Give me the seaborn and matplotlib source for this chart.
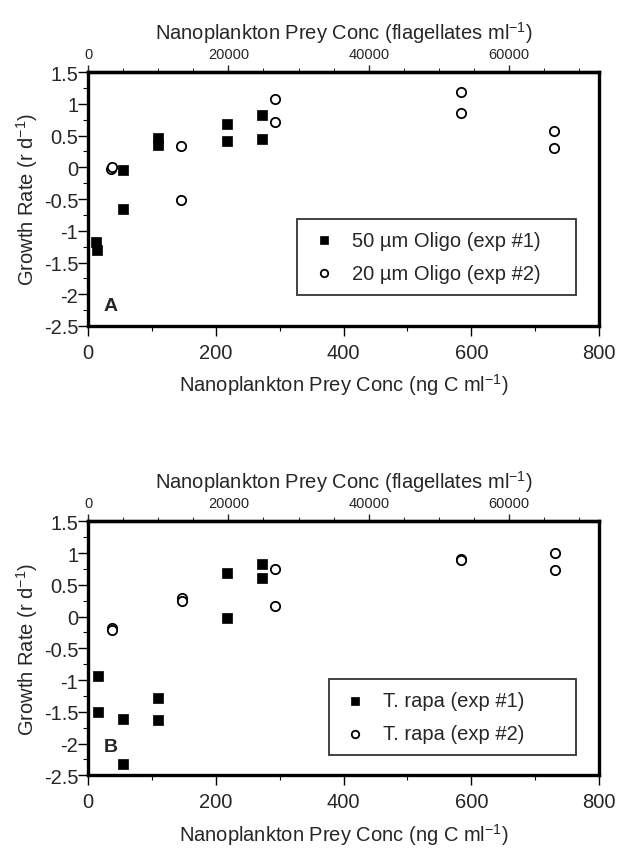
import numpy as np
import pandas as pd
import matplotlib
matplotlib.use("Agg")
import matplotlib.pyplot as plt
import seaborn as sns
from matplotlib.ticker import MultipleLocator, FixedLocator

# panel A values (ng C ml-1, growth rate r d-1)
a1_x = [13, 14, 54, 55, 109, 109, 217, 217, 272, 272]
a1_y = [-1.17, -1.30, -0.05, -0.65, 0.46, 0.35, 0.68, 0.42, 0.83, 0.45]
a2_x = [36, 37, 146, 146, 292, 292, 584, 584, 730, 730]
a2_y = [-0.02, 0.0, 0.33, -0.52, 1.07, 0.71, 1.19, 0.85, 0.57, 0.31]

# panel B values
b1_x = [15, 15, 55, 55, 110, 110, 218, 218, 273, 273]
b1_y = [-0.93, -1.50, -1.61, -2.33, -1.29, -1.63, 0.68, -0.03, 0.82, 0.61]
b2_x = [38, 38, 147, 147, 292, 292, 584, 584, 731, 731]
b2_y = [-0.18, -0.21, 0.30, 0.24, 0.75, 0.17, 0.91, 0.89, 1.00, 0.73]

labels_a = ["50 \u00b5m Oligo (exp #1)", "20 \u00b5m Oligo (exp #2)"]
labels_b = ["T. rapa (exp #1)", "T. rapa (exp #2)"]

# top axis (flagellates ml-1)
flag_ticks = [0, 20000, 40000, 60000]
flag_minor = list(range(0, 75000, 5000))

cells_per_ngC = 91.0

sns.set_style("white")
plt.rcParams['font.family'] = ['Liberation Sans', 'DejaVu Sans']
plt.rcParams['mathtext.default'] = 'regular'

fig = plt.figure(figsize=(6.19, 8.54), dpi=100)
ax_a = fig.add_axes([0.1422, 0.6171, 0.8255, 0.2974])
ax_b = fig.add_axes([0.1422, 0.0910, 0.8255, 0.2974])


def draw_panel(ax, x1, y1, x2, y2, labels, letter, letter_y, leg_box):
    df = pd.DataFrame({
        "conc": x1 + x2,
        "rate": y1 + y2,
        "series": [labels[0]] * len(x1) + [labels[1]] * len(x2),
    })
    sns.scatterplot(data=df[df.series == labels[0]], x="conc", y="rate", ax=ax,
                    marker="s", s=62, color="black", edgecolor="black",
                    linewidth=0.5, label=labels[0], zorder=3)
    sns.scatterplot(data=df[df.series == labels[1]], x="conc", y="rate", ax=ax,
                    marker="o", s=45, facecolor="white", edgecolor="black",
                    linewidth=1.3, label=labels[1], zorder=3)
    ax.set_xlim(0, 800)
    ax.set_ylim(-2.5, 1.5)
    ax.xaxis.set_major_locator(MultipleLocator(200))
    ax.xaxis.set_minor_locator(MultipleLocator(100))
    ax.yaxis.set_major_locator(MultipleLocator(0.5))
    ax.yaxis.set_minor_locator(MultipleLocator(0.25))
    ax.set_yticks(np.arange(-2.5, 1.51, 0.5))
    ax.set_yticklabels(["-2.5", "-2", "-1.5", "-1", "-0.5", "0", "0.5", "1", "1.5"])
    ax.tick_params(axis="both", which="major", direction="out", length=7,
                   width=1.0, labelsize=14.5, color="black", left=True, bottom=True)
    ax.tick_params(axis="both", which="minor", direction="out", length=3.5,
                   width=0.8, color="black", left=True, bottom=True)
    ax.tick_params(axis="y", pad=0)
    ax.tick_params(axis="x", pad=5)
    for sp in ax.spines.values():
        sp.set_linewidth(2.4)
        sp.set_color("black")
    ax.set_xlabel("Nanoplankton Prey Conc (ng C ml$^{-1}$)", fontsize=14.5, labelpad=7)
    ax.set_ylabel("Growth Rate (r d$^{-1}$)", fontsize=14.5, labelpad=3)

    top = ax.secondary_xaxis("top", functions=(lambda v: v * cells_per_ngC,
                                               lambda v: v / cells_per_ngC))
    top.xaxis.set_major_locator(FixedLocator(flag_ticks))
    top.xaxis.set_minor_locator(FixedLocator(flag_minor))
    top.tick_params(which="major", direction="out", length=5, width=1.0, labelsize=10.5, pad=3)
    top.tick_params(which="minor", direction="out", length=3, width=0.7)
    top.spines["top"].set_linewidth(2.4)
    top.set_xlabel("Nanoplankton Prey Conc (flagellates ml$^{-1}$)", fontsize=14.5, labelpad=6)

    ax.text(36, letter_y, letter, fontsize=14, fontweight="bold", ha="center", va="center")

    leg = ax.legend(loc="lower left", bbox_to_anchor=leg_box, mode="expand",
                    frameon=True, fancybox=False, fontsize=14.5, handletextpad=0.7,
                    borderpad=0.6, labelspacing=0.7, handlelength=1.4,
                    markerscale=0.8)
    leg.get_frame().set_edgecolor("black")
    leg.get_frame().set_linewidth(1.3)


draw_panel(ax_a, a1_x, a1_y, a2_x, a2_y, labels_a, "A", -2.17,
           (0.39, 0.083, 0.585, 0.34))
draw_panel(ax_b, b1_x, b1_y, b2_x, b2_y, labels_b, "B", -2.05,
           (0.452, 0.04, 0.523, 0.33))

fig.savefig("out.png", dpi=100)
